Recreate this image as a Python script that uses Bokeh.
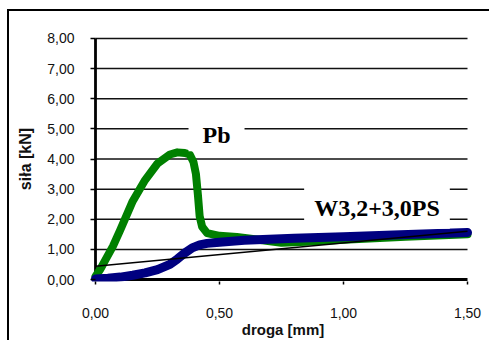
import math
from bokeh.plotting import figure
from bokeh.models import FixedTicker, Label, Range1d
from bokeh.embed import file_html
from bokeh.resources import INLINE

# ---- data ----
PB_X = [0.0, 0.02, 0.04, 0.07, 0.10, 0.15, 0.20, 0.25, 0.30, 0.33, 0.36, 0.38,
        0.395, 0.405, 0.413, 0.42, 0.43, 0.45, 0.50, 0.57, 0.65, 0.75, 0.85,
        1.00, 1.25, 1.50]
PB_Y = [0.10, 0.35, 0.65, 1.10, 1.65, 2.60, 3.30, 3.85, 4.15, 4.22, 4.20, 4.15,
        3.90, 3.50, 2.80, 2.10, 1.75, 1.54, 1.45, 1.41, 1.33, 1.22, 1.25,
        1.32, 1.42, 1.50]

W_X = [0.0, 0.05, 0.10, 0.15, 0.20, 0.25, 0.30, 0.33, 0.36, 0.39, 0.42, 0.45,
       0.50, 0.60, 0.70, 0.80, 1.00, 1.20, 1.50]
W_Y = [0.02, 0.04, 0.08, 0.14, 0.22, 0.33, 0.50, 0.68, 0.88, 1.05, 1.15, 1.20,
       1.24, 1.30, 1.34, 1.37, 1.42, 1.48, 1.56]

TREND_X = [0.0, 1.5]
TREND_Y = [0.44, 1.60]

X_TICKS = [0.0, 0.5, 1.0, 1.5]
X_TICK_LABELS = ["0,00", "0,50", "1,00", "1,50"]
Y_TICKS = [0, 1, 2, 3, 4, 5, 6, 7, 8]
Y_TICK_LABELS = ["0,00", "1,00", "2,00", "3,00", "4,00", "5,00", "6,00", "7,00", "8,00"]

X_MAX = 1.5
Y_MAX = 8

SERIES_LABELS = ["Pb", "W3,2+3,0PS"]
X_TITLE = "droga [mm]"
Y_TITLE = "siła [kN]"

# ---- figure ----
PX_X = 248.0   # pixels per mm
PX_Y = 30.25   # pixels per kN

p = figure(width=489, height=340, output_backend="svg", toolbar_location=None,
           x_range=Range1d(-5 / PX_X, X_MAX + 8 / PX_X),
           y_range=Range1d(-2 / PX_Y, Y_MAX + 2 / PX_Y),
           min_border_left=90, min_border_right=14,
           min_border_top=36, min_border_bottom=58)
p.styles = {"background": ("linear-gradient(#000,#000) 8px 9px / calc(100% - 8px) 2px no-repeat, "
                           "linear-gradient(#000,#000) 7px 9px / 2px calc(100% - 9px) no-repeat")}
p.outline_line_color = None
p.background_fill_color = "white"
p.border_fill_color = None
p.xgrid.visible = False
p.ygrid.visible = False

for ax, ticks, labels in ((p.xaxis[0], X_TICKS, X_TICK_LABELS),
                          (p.yaxis[0], Y_TICKS, Y_TICK_LABELS)):
    ax.ticker = FixedTicker(ticks=ticks)
    ax.major_label_overrides = {t: l for t, l in zip(ticks, labels)}
    ax.axis_line_color = None
    ax.major_tick_line_color = "black"
    ax.major_tick_line_width = 1.5
    ax.minor_tick_line_color = None
    ax.major_label_text_font = "Liberation Sans"
    ax.major_label_text_font_size = "14px"
    ax.major_label_text_color = "#111111"
    ax.axis_label_text_font = "Liberation Sans"
    ax.axis_label_text_font_style = "bold"
    ax.axis_label_text_font_size = "15px"
    ax.axis_label_text_color = "#111111"

p.yaxis.axis_label_text_font_size = "16px"
p.xaxis.major_tick_in = 0
p.xaxis.major_tick_out = 3
p.yaxis.major_tick_in = 5
p.yaxis.major_tick_out = 0
p.xaxis.major_label_standoff = 23
p.yaxis.major_label_standoff = 16
p.xaxis.axis_label = X_TITLE
p.yaxis.axis_label = Y_TITLE
p.xaxis.axis_label_standoff = 0
p.yaxis.axis_label_standoff = 10

# gridlines
gy = Y_TICKS[1:]
p.segment(x0=[0] * len(gy), y0=gy, x1=[X_MAX] * len(gy), y1=gy,
          line_color="#111111", line_width=1.5)
# axis lines
p.segment(x0=[0, 0], y0=[0, 0], x1=[X_MAX, 0], y1=[0, Y_MAX],
          line_color="black", line_width=2.8)

# series
p.line(PB_X, PB_Y, line_color="#008000", line_width=8, line_cap="round",
       line_join="round")
p.line(W_X, W_Y, line_color="#000080", line_width=9, line_cap="round",
       line_join="round")
p.line(TREND_X, TREND_Y, line_color="black", line_width=1.5)

# series labels
p.add_layout(Label(x=0.488, y=4.79, text=SERIES_LABELS[0], text_align="center",
                   text_baseline="middle", text_font="Liberation Serif",
                   text_font_style="bold", text_font_size="24px",
                   text_color="black", background_fill_color="white",
                   padding=dict(left=14, right=14, top=3, bottom=3)))
p.add_layout(Label(x=1.135, y=2.38, text=SERIES_LABELS[1], text_align="center",
                   text_baseline="middle", text_font="Liberation Serif",
                   text_font_style="bold", text_font_size="24px",
                   text_color="black", background_fill_color="white",
                   padding=dict(left=10, right=10, top=8, bottom=8)))

open("out.html", "w").write(file_html(p, INLINE))
